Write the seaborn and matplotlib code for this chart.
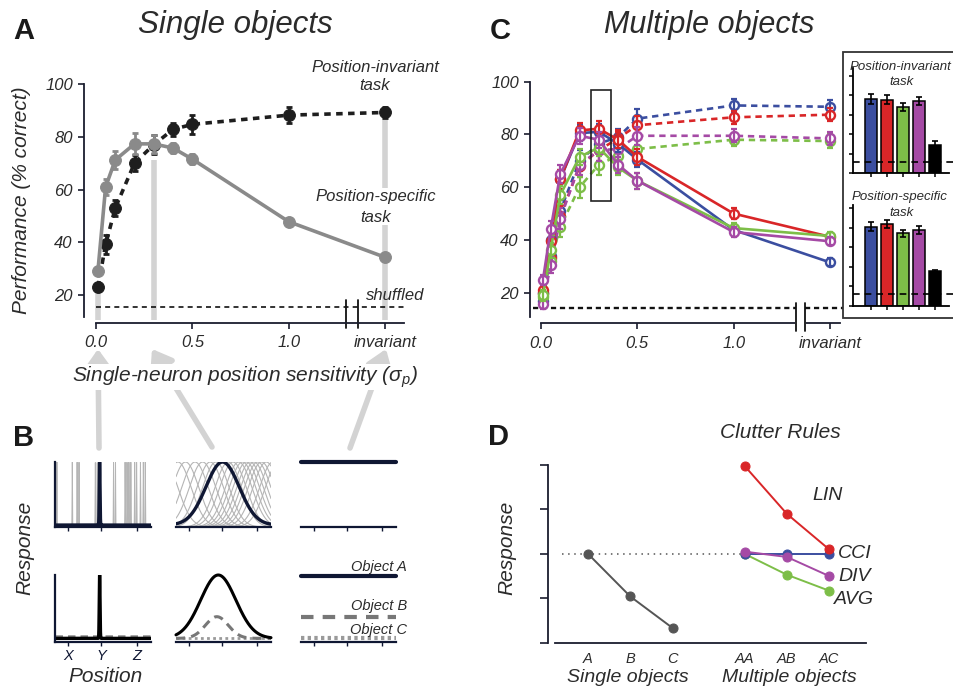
import numpy as np
import seaborn as sns
import matplotlib.pyplot as plt
from matplotlib.patches import FancyArrowPatch, Rectangle

# ---------------- data ----------------
# panel A (x = single-neuron position sensitivity, 1.5 stands for "invariant")
sens = [0.01, 0.05, 0.1, 0.2, 0.3, 0.4, 0.5, 1.0, 1.5]
inv_task = [22.9, 39.2, 53.0, 70.0, 77.0, 82.8, 84.7, 88.2, 89.2]
inv_err = [1.5, 3.5, 3.0, 3.0, 3.5, 2.5, 3.5, 3.0, 2.0]
spec_task = [29.2, 61.0, 71.2, 77.3, 77.3, 75.7, 71.5, 47.8, 34.3]
spec_err = [1.5, 3.0, 3.5, 4.0, 3.5, 2.0, 2.0, 1.5, 1.0]
shuffled_a = 15.5

# panel C, position-specific task (solid) and position-invariant task (dashed)
rule_colors = ["#3b4ea0", "#d92628", "#7dbe48", "#a54aa5"]
spec_blue = [20.0, 40.0, 63.0, 80.5, 81.0, 76.5, 70.5, 43.8, 31.5]
spec_red = [21.0, 39.5, 63.0, 81.5, 82.2, 78.0, 71.5, 50.0, 41.2]
spec_green = [19.0, 36.0, 57.0, 71.5, 75.0, 67.5, 62.5, 44.5, 41.5]
spec_purple = [24.8, 44.0, 65.0, 79.5, 78.0, 68.5, 62.5, 43.0, 39.5]
inv_blue = [17.0, 34.0, 51.0, 70.0, 76.5, 79.0, 86.0, 91.0, 90.5]
inv_red = [20.0, 33.0, 49.0, 68.0, 74.0, 78.5, 83.5, 86.5, 87.5]
inv_green = [18.5, 32.0, 45.0, 60.0, 68.5, 72.0, 74.5, 78.0, 77.5]
inv_purple = [15.8, 30.5, 48.0, 68.5, 74.0, 74.5, 79.5, 79.5, 78.5]
c_spec_err = [2.0, 3.0, 3.5, 3.0, 3.0, 3.0, 3.0, 2.0, 1.5]
c_inv_err = [2.0, 3.0, 4.0, 4.0, 4.0, 3.0, 3.5, 2.5, 2.5]
shuffled_c = 14.1
box_x = [0.259, 0.365]
box_y = [54.8, 97.0]

# panel C insets (bars)
bar_cats = ["blue", "red", "green", "purple", "black"]
bar_colors = rule_colors + ["#000000"]
inset_inv = [76.2, 75.5, 68.0, 73.8, 29.2]
inset_inv_err = [5.0, 4.5, 4.0, 4.0, 4.0]
inset_spec = [81.0, 83.7, 74.2, 77.6, 35.7]
inset_spec_err = [4.5, 4.0, 3.5, 4.0, 1.0]
inset_chance = 12.0

# panel B (schematic tuning curves, positions in 0..1)
spike_centers = [0.02, 0.18, 0.23, 0.25, 0.42, 0.44, 0.61, 0.63, 0.73, 0.75,
                 0.77, 0.79, 0.83, 0.85, 0.89, 0.92, 0.94]
spike_main = 0.465
tuning_centers = [-0.12, 0.02, 0.1, 0.2, 0.28, 0.36, 0.42, 0.55, 0.6, 0.66,
                  0.7, 0.74, 0.78, 0.82, 0.86, 0.9, 0.95, 1.02, 1.08]
tuning_main = 0.49
b_ticks = [0.14, 0.48, 0.85]
b_ticklabels = ["X", "Y", "Z"]
objB_level = 0.375
objC_level = 0.05

# panel D (clutter rules)
d_single_x = [1, 2, 3]
d_single = [2.0, 1.04, 0.33]
d_multi_x = [4.7, 5.7, 6.7]
d_lin = [3.98, 2.9, 2.1]
d_cci = [2.0, 2.0, 2.0]
d_div = [2.05, 1.93, 1.5]
d_avg = [2.0, 1.53, 1.17]
d_labels = ["A", "B", "C", "AA", "AB", "AC"]

# ---------------- style ----------------
sns.set_theme(style="ticks")
plt.rcParams["font.family"] = ["Liberation Sans", "DejaVu Sans"]
plt.rcParams["font.style"] = "italic"
plt.rcParams["mathtext.fontset"] = "custom"
plt.rcParams["mathtext.it"] = "Liberation Sans:italic"
plt.rcParams["mathtext.rm"] = "Liberation Sans"

W, H = 954, 689
TXT = "#2b2b2b"
SPINE = "#1a1d2e"
NAVY = "#0f1733"
LIGHT = "#d3d3d3"
fig = plt.figure(figsize=(W / 100, H / 100), dpi=100)


def px_rect(x0, y0, x1, y1):
    return [x0 / W, 1 - y1 / H, (x1 - x0) / W, (y1 - y0) / H]


def ftext(x, y, s, **kw):
    kw.setdefault("ha", "center")
    kw.setdefault("va", "center")
    kw.setdefault("color", TXT)
    return fig.text(x / W, 1 - y / H, s, **kw)


def style_axes(ax, left_off, bottom_off, ylo, yhi, xlo, xhi):
    ax.set_facecolor("none")
    for s in ["top", "right"]:
        ax.spines[s].set_visible(False)
    ax.spines["left"].set_position(("outward", left_off * 0.72))
    ax.spines["bottom"].set_position(("outward", bottom_off * 0.72))
    ax.spines["left"].set_bounds(ylo, yhi)
    ax.spines["bottom"].set_bounds(xlo, xhi)
    for s in ["left", "bottom"]:
        ax.spines[s].set_color(SPINE)
        ax.spines[s].set_linewidth(1.3)
    ax.tick_params(length=4, width=1.2, color=SPINE, labelsize=12,
                   labelcolor=TXT, pad=4)
    ax.set_xlabel("")
    ax.set_ylabel("")


# ---------------- panel A ----------------
axA = fig.add_axes(px_rect(96, 84, 404, 317))
xmaxA, yloA = 1.598, 11.66
axA.set_xlim(0, xmaxA)
axA.set_ylim(yloA, 100)

# light gray guide bars behind the selected sensitivities
for x0, y0, y1 in [(sens[0], 10.5, 21.0), (sens[4], 10.5, 71.0),
                   (sens[-1], 10.5, 46.5), (sens[-1], 60.5, 87.0)]:
    axA.plot([x0, x0], [y0, y1], color=LIGHT, lw=4, solid_capstyle="butt",
             clip_on=False, zorder=0)

axA.plot([0, xmaxA], [shuffled_a, shuffled_a], color="#111111", lw=1.2,
         ls=(0, (3, 2.5)), zorder=1)

sns.lineplot(x=sens, y=inv_task, ax=axA, color="#1e1e1e", lw=2.6,
             ls=(0, (1.8, 1.5)), marker="o", markersize=8.5,
             markeredgecolor="#1e1e1e", markerfacecolor="#1e1e1e",
             errorbar=None, clip_on=False, zorder=3)
axA.errorbar(sens, inv_task, yerr=inv_err, fmt="none", ecolor="#1e1e1e",
             elinewidth=2, capsize=2.5, capthick=2, zorder=3, clip_on=False)
sns.lineplot(x=sens, y=spec_task, ax=axA, color="#8a8a8a", lw=2.6,
             marker="o", markersize=8.5, markeredgecolor="#8a8a8a",
             markerfacecolor="#8a8a8a", errorbar=None, clip_on=False, zorder=4)
axA.errorbar(sens, spec_task, yerr=spec_err, fmt="none", ecolor="#8a8a8a",
             elinewidth=2, capsize=2.5, capthick=2, zorder=4, clip_on=False)

for xb in [1.297, 1.360]:
    axA.plot([xb, xb], [7.5, 18.1], color="#111111", lw=1.3, clip_on=False)

style_axes(axA, 12, 6, yloA, 100, 0, xmaxA)
axA.set_yticks([20, 40, 60, 80, 100])
axA.set_xticks([0, 0.5, 1.0, 1.5])
axA.set_xticklabels(["0.0", "0.5", "1.0", "invariant"])
axA.tick_params(axis="x", pad=5)

ftext(375, 67, "Position-invariant", fontsize=12)
ftext(375, 86, "task", fontsize=12)
ftext(376, 197, "Position-specific", fontsize=12)
ftext(376, 217, "task", fontsize=12)
ftext(395, 295, "shuffled", fontsize=12)
ftext(22, 200, "Performance (% correct)", fontsize=15, rotation=90)
ftext(245, 377, "Single-neuron position sensitivity (σ$_p$)", fontsize=15,
      bbox=dict(facecolor="white", edgecolor="none", pad=0), zorder=5)

# arrows from panel B up to panel A
for (xa, ya), (xb, yb) in [((99, 448), (98, 349)), ((212, 447), (152, 349)),
                           ((350, 448), (386, 349))]:
    fig.add_artist(FancyArrowPatch((xa / W, 1 - ya / H), (xb / W, 1 - yb / H),
                                   transform=fig.transFigure,
                                   arrowstyle="-|>,head_width=0.5,head_length=0.7",
                                   mutation_scale=16, lw=4, color=LIGHT,
                                   shrinkA=0, shrinkB=0, zorder=2))

# ---------------- panel C ----------------
axC = fig.add_axes(px_rect(541, 81.7, 840, 316.7))
xmaxC, yloC = 1.552, 10.9
axC.set_xlim(0, xmaxC)
axC.set_ylim(yloC, 100)

for xs0, xs1 in [(-0.04, 1.323), (1.370, 1.567)]:
    axC.plot([xs0, xs1], [shuffled_c, shuffled_c], color="#111111", lw=1.7,
             ls=(0, (2.2, 1.6)), clip_on=False, zorder=1)

inv_series = [inv_blue, inv_red, inv_green, inv_purple]
spec_series = [spec_blue, spec_red, spec_green, spec_purple]
for vals, col in zip(inv_series, rule_colors):
    sns.lineplot(x=sens, y=vals, ax=axC, color=col, lw=1.9,
                 ls=(0, (2.4, 1.8)), marker="o", markersize=6.5,
                 markerfacecolor="white", markeredgecolor=col,
                 markeredgewidth=1.7, errorbar=None, clip_on=False, zorder=3)
    axC.errorbar(sens, vals, yerr=c_inv_err, fmt="none", ecolor=col,
                 elinewidth=1.6, capsize=2, capthick=1.6, zorder=3,
                 clip_on=False)
for vals, col in zip(spec_series, rule_colors):
    sns.lineplot(x=sens, y=vals, ax=axC, color=col, lw=1.9, marker="o",
                 markersize=6.5, markerfacecolor="white", markeredgecolor=col,
                 markeredgewidth=1.7, errorbar=None, clip_on=False, zorder=4)
    axC.errorbar(sens, vals, yerr=c_spec_err, fmt="none", ecolor=col,
                 elinewidth=1.6, capsize=2, capthick=1.6, zorder=4,
                 clip_on=False)

axC.add_patch(Rectangle((box_x[0], box_y[0]), box_x[1] - box_x[0],
                        box_y[1] - box_y[0], facecolor="none",
                        edgecolor="#222222", lw=1.2, zorder=6, clip_on=False))

style_axes(axC, 11, 6.3, yloC, 100, 0, xmaxC)
axC.set_yticks([20, 40, 60, 80, 100])
axC.set_xticks([0, 0.5, 1.0, 1.5])
axC.set_xticklabels(["0.0", "0.5", "1.0", "invariant"])
axC.tick_params(axis="x", pad=5)
# axis break
axC.plot([1.327, 1.366], [yloC - 6.3 / 2.6375] * 2, color="white", lw=3,
         clip_on=False, zorder=5)
for xb in [1.323, 1.370]:
    axC.plot([xb, xb], [5.5, 16.1], color="#111111", lw=1.3, clip_on=False,
             zorder=6)

# inset frame
fig.add_artist(Rectangle((843 / W, 1 - 318 / H), 120 / W, 266 / H,
                         transform=fig.transFigure, facecolor="white",
                         edgecolor="#333333", lw=1.3, zorder=0.5))


def inset(rect, vals, errs, ylim):
    ax = fig.add_axes(rect, zorder=3)
    sns.barplot(x=bar_cats, y=vals, hue=bar_cats, palette=bar_colors,
                legend=False, ax=ax, width=0.8, edgecolor="black",
                linewidth=1.1, saturation=1)
    ax.errorbar(range(len(vals)), vals, yerr=errs, fmt="none", ecolor="black",
                elinewidth=1.2, capsize=2, capthick=1.2)
    ax.plot([-1.125, 5.2], [inset_chance, inset_chance], color="black",
            lw=1.2, ls=(0, (4, 3)), clip_on=False, zorder=5)
    ax.set_xlim(-1.125, 4.875)
    ax.set_ylim(*ylim)
    ax.set_facecolor("none")
    for s in ["top", "right"]:
        ax.spines[s].set_visible(False)
    for s in ["left", "bottom"]:
        ax.spines[s].set_color("black")
        ax.spines[s].set_linewidth(1.3)
    ax.set_yticks([0, 20, 40, 60, 80, 100])
    ax.set_yticklabels([])
    ax.set_xticks(range(len(vals)))
    ax.set_xticklabels([])
    ax.tick_params(length=3, width=1.1, color="black")
    ax.set_xlabel("")
    ax.set_ylabel("")
    return ax


inset(px_rect(853, 68, 949, 173.3), inset_inv, inset_inv_err, (0, 108))
inset(px_rect(853, 205, 949, 306), inset_spec, inset_spec_err, (0, 103))
ftext(900, 66.7, "Position-invariant", fontsize=9.5, zorder=4)
ftext(902, 81.7, "task", fontsize=9.5, zorder=4)
ftext(900, 197, "Position-specific", fontsize=9.5, zorder=4)
ftext(902, 212.7, "task", fontsize=9.5, zorder=4)

# ---------------- panel B ----------------
pos = np.linspace(0, 1, 1500)


def gauss(c, s):
    return np.exp(-0.5 * ((pos - c) / s) ** 2)


def small_axes(x0, y0, x1, y1, left=False):
    ax = fig.add_axes(px_rect(x0, y0, x1, y1))
    ax.set_xlim(0, 1)
    ax.set_ylim(0, 1)
    ax.set_facecolor("none")
    for s in ["top", "right"]:
        ax.spines[s].set_visible(False)
    ax.spines["left"].set_visible(left)
    for s in ["left", "bottom"]:
        ax.spines[s].set_color(NAVY)
        ax.spines[s].set_linewidth(1.6)
    ax.set_yticks([])
    ax.set_xticks(b_ticks)
    ax.set_xticklabels([])
    ax.tick_params(axis="x", length=3, width=1, color=NAVY)
    return ax


b1 = small_axes(55, 462, 151, 527, left=True)
for c in spike_centers:
    b1.plot(pos, gauss(c, 0.002), color="#b5b5b5", lw=0.7)
b1.plot(pos, 0.03 + 0.97 * gauss(spike_main, 0.004), color=NAVY, lw=2.4)

b2 = small_axes(176, 462, 271, 527)
for c in tuning_centers:
    b2.plot(pos, gauss(c, 0.14), color="#b5b5b5", lw=0.8)
b2.plot(pos, 0.03 + 0.97 * gauss(tuning_main, 0.175), color=NAVY, lw=2.4)

b3 = small_axes(301, 462, 396, 527)
b3.plot([0, 1], [1, 1], color=NAVY, lw=3, clip_on=False)

b4 = small_axes(55, 575, 151, 641.7, left=True)
b4.plot([0, 1], [0.08, 0.08], color="#8a8a8a", lw=1.8, ls=(0, (3, 2)))
b4.plot(pos, 0.05 + 0.95 * gauss(spike_main, 0.004), color="black", lw=2.4)
b4.set_xticklabels(b_ticklabels, fontsize=10.5, color=NAVY)
b4.tick_params(axis="x", pad=2)

b5 = small_axes(176, 575, 271, 641.7)
b5.plot([0, 1], [objC_level] * 2, color="#9a9a9a", lw=2, ls=(0, (1, 1.2)))
dashed = objC_level + (objB_level - objC_level) * gauss(0.43, 0.12)
b5.plot(pos, dashed, color="#777777", lw=2.2, ls=(0, (3, 2)))
b5.plot(pos, 0.05 + 0.95 * gauss(0.445, 0.185), color="black", lw=2.2,
        clip_on=False)

b6 = small_axes(301, 575, 396, 641.7)
b6.plot([0, 1], [0.98, 0.98], color=NAVY, lw=3, clip_on=False)
b6.plot([0, 1], [objB_level] * 2, color="#777777", lw=3, ls=(0, (3, 2.2)))
b6.plot([0, 1], [objC_level] * 2, color="#9a9a9a", lw=3, ls=(0, (0.8, 0.8)))

ftext(407, 566.7, "Object A", fontsize=10.5, ha="right")
ftext(407, 606, "Object B", fontsize=10.5, ha="right")
ftext(407, 630, "Object C", fontsize=10.5, ha="right")
ftext(25, 548, "Response", fontsize=15, rotation=90)
ftext(105, 676.7, "Position", fontsize=15)

# ---------------- panel D ----------------
axD = fig.add_axes(px_rect(555, 465, 866, 642.7))
axD.set_xlim(0.22, 7.57)
axD.set_ylim(0, 4)
axD.plot([0.385, d_multi_x[0]], [d_single[0]] * 2, color="#555555", lw=1.1,
         ls=(0, (1, 3)), zorder=1)
sns.lineplot(x=d_single_x, y=d_single, ax=axD, color="#555555", lw=1.4,
             marker="o", markersize=6.5, markeredgecolor="#555555",
             errorbar=None, zorder=3)
for vals, col in [(d_avg, rule_colors[2]), (d_cci, rule_colors[0]),
                  (d_div, rule_colors[3]), (d_lin, rule_colors[1])]:
    sns.lineplot(x=d_multi_x, y=vals, ax=axD, color=col, lw=1.4, marker="o",
                 markersize=6.5, markeredgecolor=col, errorbar=None,
                 clip_on=False, zorder=3)
style_axes(axD, 7, 0, 0, 4, 0.22, 7.57)
axD.set_yticks([0, 1, 2, 3, 4])
axD.set_yticklabels([])
axD.tick_params(axis="y", length=6)
axD.set_xticks(d_single_x + d_multi_x)
axD.set_xticklabels(d_labels, fontsize=10.5)
axD.tick_params(axis="x", length=0, pad=7)

ftext(828, 496, "LIN", fontsize=14)
ftext(838, 553, "CCI", fontsize=14, ha="left")
ftext(838, 576.7, "DIV", fontsize=14, ha="left")
ftext(834, 600, "AVG", fontsize=14, ha="left")
ftext(780, 433, "Clutter Rules", fontsize=15)
ftext(507, 548, "Response", fontsize=15, rotation=90)
ftext(628, 677, "Single objects", fontsize=14)
ftext(789, 677, "Multiple objects", fontsize=14)

# ---------------- titles and panel letters ----------------
ftext(235, 25, "Single objects", fontsize=22.5)
ftext(709, 25, "Multiple objects", fontsize=22)
for x, y, s in [(24, 31, "A"), (500, 31, "C"), (24, 438, "B"), (499, 437, "D")]:
    ftext(x, y, s, fontsize=21, fontweight="bold", fontstyle="normal",
          color="#1a1a1a")

fig.savefig("out.png", dpi=100)
